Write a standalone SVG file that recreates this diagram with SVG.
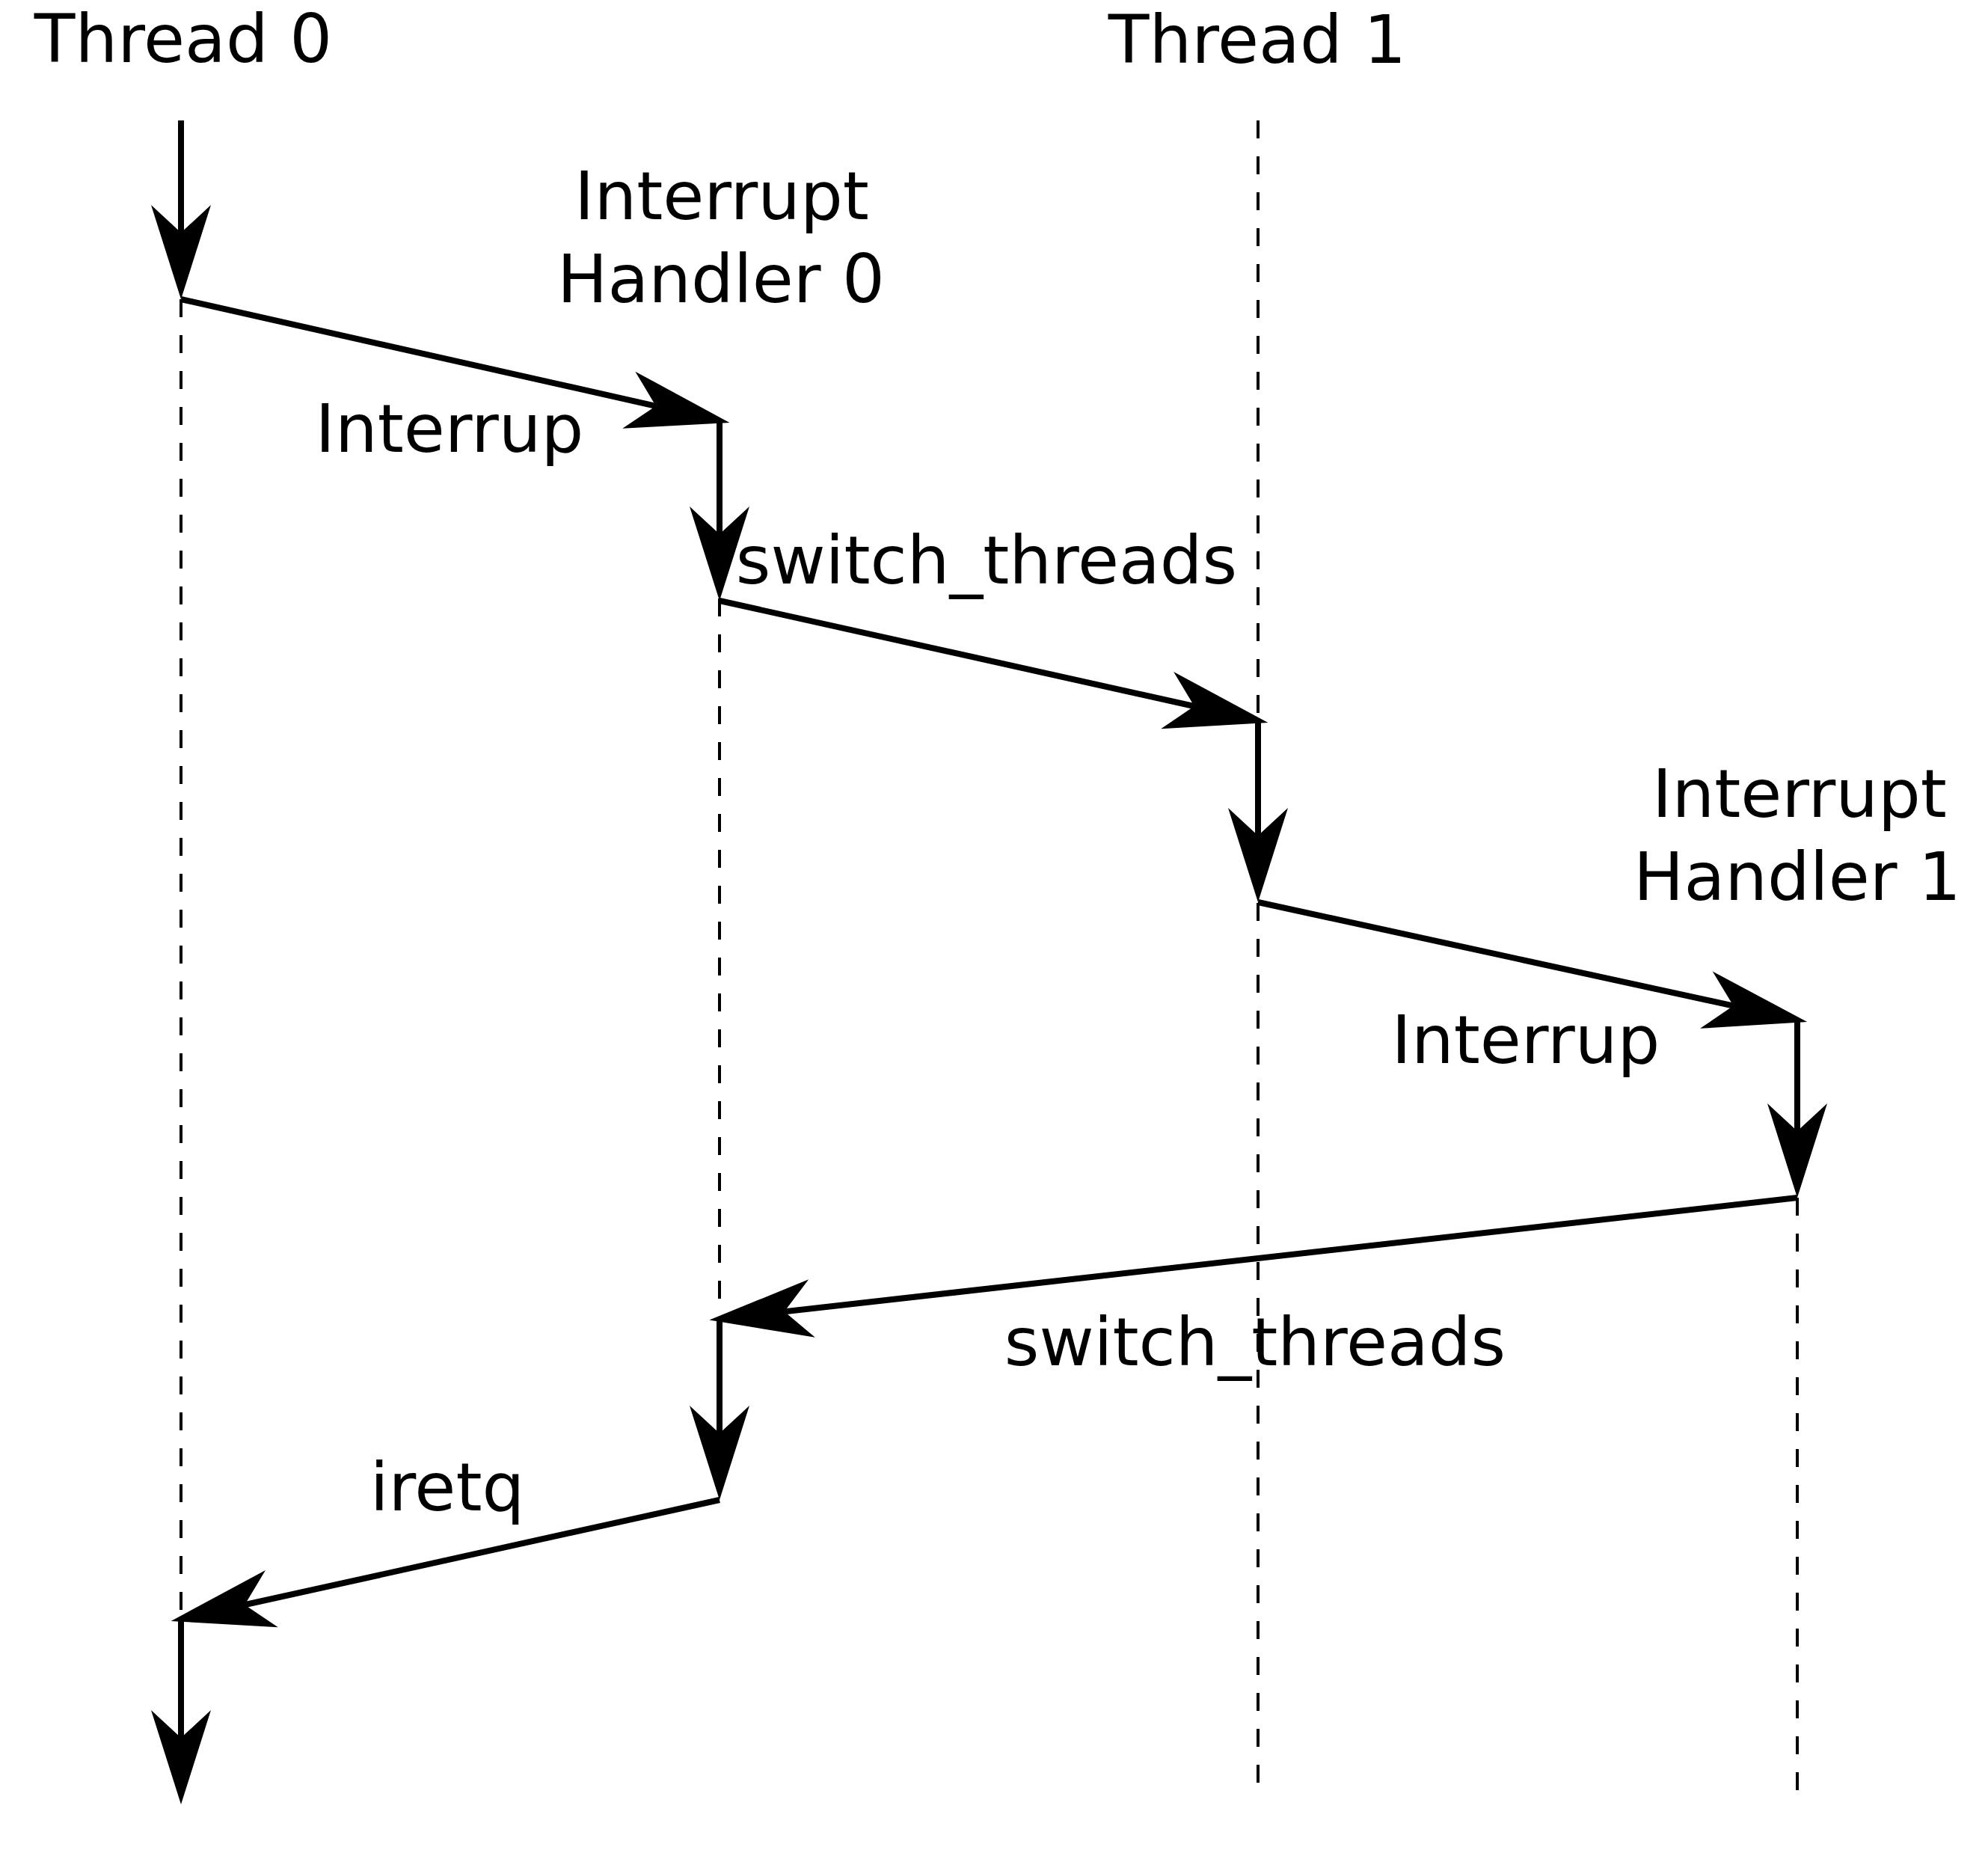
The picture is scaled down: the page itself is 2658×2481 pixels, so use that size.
<svg xmlns="http://www.w3.org/2000/svg" width="2658" height="2481" viewBox="0 0 2658 2481">
<style>
.lbl{font-family:"DejaVu Sans","Liberation Sans",sans-serif;font-size:89.5px;fill:#000;text-anchor:middle}
.solid{stroke:#000;stroke-width:8;fill:none}
.v{marker-end:url(#av)}
.d{marker-end:url(#ad)}
.dash{stroke:#000;stroke-width:4;fill:none;stroke-dasharray:24 24}
</style>
<defs>
<marker id="av" markerUnits="userSpaceOnUse" orient="auto" refX="-60" refY="0" overflow="visible" markerWidth="10" markerHeight="10">
<path d="M0,0 L-126,-40 L-89,0 L-126,40 Z" fill="#000"/>
</marker>
<marker id="ad" markerUnits="userSpaceOnUse" orient="auto" refX="-60" refY="0" overflow="visible" markerWidth="10" markerHeight="10">
<path d="M0,0 L-138,-39 L-101,0 L-138,39 Z" fill="#000"/>
</marker>
</defs>
<rect width="2658" height="2481" fill="#fff"/>
<g id="lifelines">
<line class="dash" x1="242" y1="400" x2="242" y2="2164"/>
<line class="dash" x1="962" y1="800" x2="962" y2="1763"/>
<line class="dash" x1="1682" y1="161" x2="1682" y2="963"/>
<line class="dash" x1="1682" y1="1207" x2="1682" y2="2395"/>
<line class="dash" x1="2403" y1="1601" x2="2403" y2="2395"/>
</g>
<g id="connectors">
<line class="solid v" x1="242" y1="161" x2="242" y2="340"/>
<line class="solid d" x1="242" y1="400" x2="916.9" y2="551.8"/>
<line class="solid v" x1="962" y1="563" x2="962" y2="743"/>
<line class="solid d" x1="962" y1="803" x2="1636.8" y2="953"/>
<line class="solid v" x1="1682" y1="963" x2="1682" y2="1146"/>
<line class="solid d" x1="1682" y1="1206" x2="2357.6" y2="1353.3"/>
<line class="solid v" x1="2403" y1="1363" x2="2403" y2="1541"/>
<line class="solid d" x1="2403" y1="1601" x2="1008" y2="1757.8"/>
<line class="solid v" x1="962" y1="1763" x2="962" y2="1945"/>
<line class="solid d" x1="962" y1="2005" x2="287.2" y2="2154"/>
<line class="solid v" x1="242" y1="2164" x2="242" y2="2352"/>
</g>
<g id="thread0"><text class="lbl" x="245" y="83">Thread 0</text></g>
<g id="thread1"><text class="lbl" x="1681" y="84">Thread 1</text></g>
<g id="handler0"><text class="lbl" x="965" y="293">Interrupt</text><text class="lbl" x="964" y="404">Handler 0</text></g>
<g id="handler1"><text class="lbl" x="2406" y="1092">Interrupt</text><text class="lbl" x="2403" y="1203">Handler 1</text></g>
<g id="labels">
<text class="lbl" x="601" y="604">Interrup</text>
<text class="lbl" x="1319" y="780">switch_threads</text>
<text class="lbl" x="2040" y="1421">Interrup</text>
<text class="lbl" x="1678" y="1825">switch_threads</text>
<text class="lbl" x="598" y="2019">iretq</text>
</g>
</svg>
